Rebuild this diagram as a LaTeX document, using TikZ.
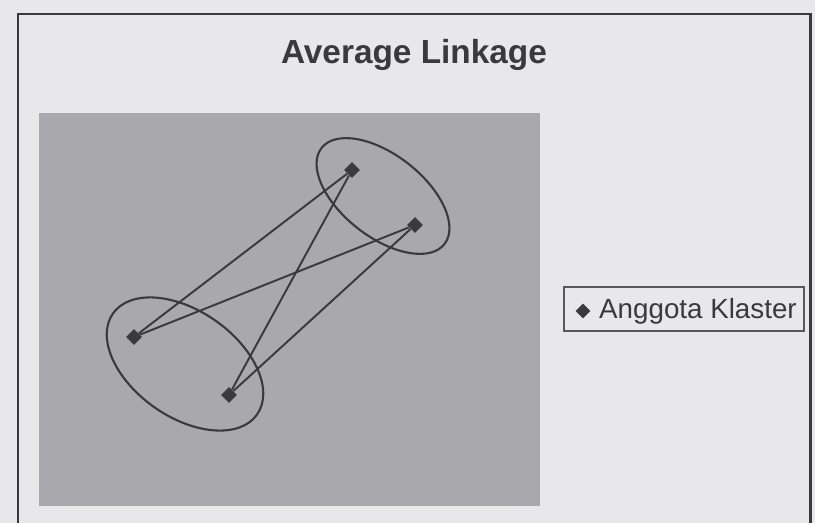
\documentclass[tikz,border=0pt]{standalone}
\usepackage{fontspec}
\setmainfont{Liberation Sans}
\definecolor{paper}{HTML}{E8E8EA}
\definecolor{plotgray}{HTML}{A9A9AD}
\definecolor{ink}{HTML}{3A3A3C}
\usetikzlibrary{positioning,shapes.geometric}
\tikzset{
  member/.style={diamond,fill=ink,inner sep=0pt,minimum size=0.32cm},
  link/.style={ink,line width=1.1pt},
  hull/.style={ink,line width=1.2pt},
  legbox/.style={draw=ink!85,line width=0.8pt,fill=paper,minimum width=4.8cm,
                 minimum height=0.88cm,inner sep=0pt},
  legtext/.style={font=\fontsize{15.8}{18}\selectfont,text=ink,inner sep=0pt}
}

\begin{document}
\begin{tikzpicture}[x=0.02cm,y=-0.02cm]
    \useasboundingbox (0,0) rectangle (815,523);
    \fill[paper] (0,0) rectangle (815,523);
    \draw[ink,line width=1.7pt] (18,523) -- (18,14) -- (810,14) -- (810,523);
    \node[font=\bfseries\fontsize{19}{22}\selectfont,text=ink,anchor=base] (title) at (414,64) {Average Linkage};
    \fill[plotgray] (39,113) rectangle (540,506);
    % two clusters
    \draw[hull,rotate around={-38:(383,196)}] (383,196) ellipse (78 and 41);
    \draw[hull,rotate around={-35:(185,364)}] (185,364) ellipse (88 and 53);
    \node[member] (p1) at (352,170) {};
    \node[member] (p2) at (415,225) {};
    \node[member] (p3) at (134,337) {};
    \node[member] (p4) at (229,395) {};
    \foreach \a in {p1,p2} \foreach \b in {p3,p4} \draw[link] (\a) -- (\b);
    % legend
    \node[legbox] (legend) at (684,309) {};
    \node[member,minimum size=0.3cm] (legmark) at (583,311) {};
    \node[legtext,right=0.16cm of legmark] (leglabel) {Anggota Klaster};
\end{tikzpicture}
\end{document}
